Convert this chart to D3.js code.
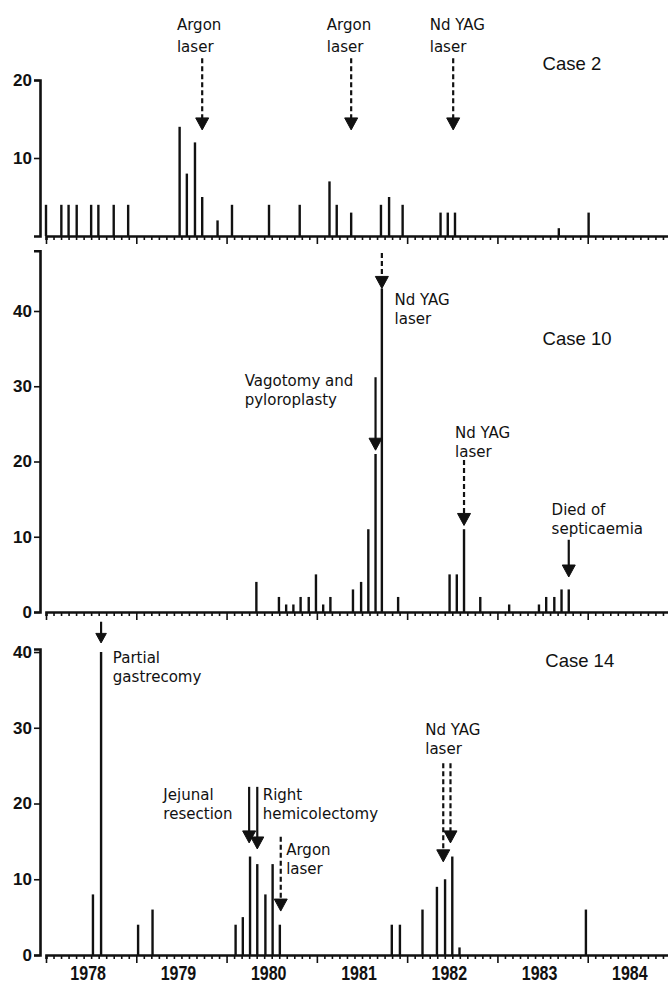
<!DOCTYPE html>
<html>
<head>
<meta charset="utf-8">
<script src="https://cdn.jsdelivr.net/npm/d3@7"></script>
<style>
  body { margin: 0; background: #fff; }
  svg { display: block; }
</style>
</head>
<body>
<div id="chart"></div>
<script>
/**
 * CONSTANTS AND GLOBALS
 * */
const width = 668,
  height = 983;

// x axis: one tick a month, long tick at each new year
const yearTicks = [1978, 1979, 1980, 1981, 1982, 1983, 1984, 1985];
const yearLabels = ["1978", "1979", "1980", "1981", "1982", "1983", "1984"];

/**
 * DATA (dates as decimal years)
 * */
const case2Dates = [1978.00, 1978.17, 1978.25, 1978.34, 1978.50, 1978.58, 1978.75, 1978.91,
  1979.48, 1979.56, 1979.65, 1979.73, 1979.90, 1980.06, 1980.47, 1980.81,
  1981.14, 1981.22, 1981.38, 1981.71, 1981.80, 1981.95, 1982.37, 1982.45, 1982.53,
  1983.68, 1984.01];
const case2Units = [4, 4, 4, 4, 4, 4, 4, 4,
  14, 8, 12, 5, 2, 4, 4, 4,
  7, 4, 3, 4, 5, 4, 3, 3, 3,
  1, 3];

const case10Dates = [1980.33, 1980.58, 1980.66, 1980.74, 1980.82, 1980.91, 1980.99, 1981.07,
  1981.15, 1981.40, 1981.49, 1981.57, 1981.65, 1981.72, 1981.90,
  1982.47, 1982.55, 1982.63, 1982.81, 1983.13, 1983.46, 1983.54, 1983.63, 1983.71, 1983.79];
const case10Units = [4, 2, 1, 1, 2, 2, 5, 1,
  2, 3, 4, 11, 21, 43, 2,
  5, 5, 11, 2, 1, 1, 2, 2, 3, 3];

const case14Dates = [1978.52, 1978.61, 1979.02, 1979.18,
  1980.10, 1980.18, 1980.26, 1980.34, 1980.43, 1980.51, 1980.59,
  1981.83, 1981.92, 1982.17, 1982.33, 1982.42, 1982.50, 1982.58, 1983.98];
const case14Units = [8, 40, 4, 6,
  4, 5, 13, 12, 8, 12, 4,
  4, 4, 6, 9, 10, 13, 1, 6];

// treatment arrows: date, value where the shaft starts, value at the tip
const case2Arrows = [
  { date: 1979.73, from: 22.8, to: 13.6, dashed: true },
  { date: 1981.38, from: 22.8, to: 13.6, dashed: true },
  { date: 1982.51, from: 22.8, to: 13.6, dashed: true },
];
const case2Notes = [
  { date: 1979.45, value: 26.4, lines: ["Argon", "laser"] },
  { date: 1981.11, value: 26.4, lines: ["Argon", "laser"] },
  { date: 1982.25, value: 26.4, lines: ["Nd YAG", "laser"] },
];

const case10Arrows = [
  { date: 1981.72, from: 47.7, to: 43, dashed: true },
  { date: 1981.65, from: 31.2, to: 21.5, dashed: false },
  { date: 1982.63, from: 20.2, to: 11.5, dashed: true },
  { date: 1983.79, from: 9.6, to: 4.65, dashed: false },
];
const case10Notes = [
  { date: 1981.86, value: 40.8, lines: ["Nd YAG", "laser"] },
  { date: 1980.20, value: 30.0, lines: ["Vagotomy and", "pyloroplasty"] },
  { date: 1982.53, value: 23.1, lines: ["Nd YAG", "laser"] },
  { date: 1983.60, value: 12.9, lines: ["Died of", "septicaemia"] },
];

const case14Arrows = [
  { date: 1978.61, from: 44.0, to: 41.2, dashed: false },
  { date: 1980.25, from: 22.2, to: 14.8, dashed: false },
  { date: 1980.34, from: 22.2, to: 14.0, dashed: false },
  { date: 1980.60, from: 15.6, to: 5.8, dashed: true },
  { date: 1982.40, from: 25.3, to: 12.3, dashed: true },
  { date: 1982.48, from: 25.3, to: 14.8, dashed: true },
];
const case14Notes = [
  { date: 1978.74, value: 38.6, lines: ["Partial", "gastrecomy"] },
  { date: 1979.30, value: 20.5, lines: ["Jejunal", "resection"] },
  { date: 1980.40, value: 20.5, lines: ["Right", "hemicolectomy"] },
  { date: 1980.66, value: 13.2, lines: ["Argon", "laser"] },
  { date: 1982.20, value: 29.0, lines: ["Nd YAG", "laser"] },
];

const caseNames = ["Case 2", "Case 10", "Case 14"];
const caseNameDates = [1983.50, 1983.50, 1983.53];
const caseNameValues = [21.3, 35.5, 38.0];

/**
 * LAYOUT
 * */
const panels = [
  { base: 236, top: 80, yMax: 20, ticks: [10, 20], dates: case2Dates, units: case2Units,
    arrows: case2Arrows, notes: case2Notes, labels: false, gap: 22 },
  { base: 612, top: 250.8, yMax: 48, ticks: [0, 10, 20, 30, 40], dates: case10Dates, units: case10Units,
    arrows: case10Arrows, notes: case10Notes, labels: false, gap: 19 },
  { base: 955, top: 649, yMax: 40.4, ticks: [0, 10, 20, 30, 40], dates: case14Dates, units: case14Units,
    arrows: case14Arrows, notes: case14Notes, labels: true, gap: 19 },
];

const annFont = "'DejaVu Sans', sans-serif",
  annSize = 16,
  annSquash = 0.94;

const svg = d3.select("#chart")
  .append("svg")
  .attr("width", width)
  .attr("height", height)
  .style("background", "#fff");

const x = d3.scaleLinear()
  .domain([1978, 1985])
  .range([46, 678]);

const months = d3.range(0, 7 * 12 + 1).map(i => 1978 + i / 12);

panels.forEach((p, pi) => {
  const y = d3.scaleLinear()
    .domain([0, p.yMax])
    .range([p.base, p.top]);

  const g = svg.append("g");

  /* X AXIS */
  const xAxis = g.append("g")
    .attr("transform", `translate(0,${p.base})`)
    .call(d3.axisBottom(x)
      .tickValues(months)
      .tickSizeOuter(0)
      .tickSize(4)
      .tickFormat(""));
  xAxis.select(".domain").attr("stroke", "#111").attr("stroke-width", 2.6);
  xAxis.selectAll(".tick line")
    .attr("stroke", "#111")
    .attr("stroke-width", 1.6)
    .attr("y2", (d, i) => i % 12 === 0 ? 8 : 4);

  if (p.labels) {
    g.selectAll("text.year")
      .data(yearLabels)
      .join("text")
      .attr("class", "year")
      .attr("transform", (d, i) => `translate(${x(yearTicks[i] + 0.5) - 3},${p.base + 25}) scale(0.8,1)`)
      .attr("text-anchor", "middle")
      .attr("font-family", "'Liberation Sans', Arial, sans-serif")
      .attr("font-weight", "bold")
      .attr("font-size", 20)
      .attr("fill", "#111")
      .text(d => d);
  }

  /* Y AXIS */
  const yAxis = g.append("g")
    .attr("transform", "translate(40,0)")
    .call(d3.axisLeft(y)
      .tickValues(p.ticks)
      .tickSizeOuter(0)
      .tickSize(6)
      .tickPadding(2));
  yAxis.select(".domain").attr("stroke", "#111").attr("stroke-width", 2.6);
  yAxis.selectAll(".tick line").attr("stroke", "#111").attr("stroke-width", 1.6);
  yAxis.selectAll(".tick text")
    .attr("font-family", "'Liberation Sans', Arial, sans-serif")
    .attr("font-weight", "bold")
    .attr("font-size", 17)
    .attr("fill", "#111");

  /* BARS */
  g.selectAll("line.bar")
    .data(p.dates.map((d, i) => ({ date: d, v: p.units[i] })))
    .join("line")
    .attr("class", "bar")
    .attr("x1", d => x(d.date))
    .attr("x2", d => x(d.date))
    .attr("y1", y(0))
    .attr("y2", d => y(d.v))
    .attr("stroke", "#111")
    .attr("stroke-width", 2.4);

  /* ARROWS */
  p.arrows.forEach(a => {
    const ax = x(a.date),
      y0 = y(a.from),
      tip = y(a.to),
      head = Math.min(12, (tip - y0) * 0.45),
      half = head * 0.5;
    g.append("line")
      .attr("x1", ax).attr("x2", ax)
      .attr("y1", y0).attr("y2", tip - head + 1)
      .attr("stroke", "#111")
      .attr("stroke-width", 2.2)
      .attr("stroke-dasharray", a.dashed ? "5,3" : null);
    g.append("path")
      .attr("d", `M${ax - half - 0.5},${tip - head} L${ax + half + 0.5},${tip - head} L${ax},${tip} Z`)
      .attr("fill", "#111")
      .attr("stroke", "#111")
      .attr("stroke-width", 1)
      .attr("stroke-linejoin", "round");
  });

  /* NOTES */
  p.notes.forEach(n => {
    n.lines.forEach((line, li) => {
      g.append("text")
        .attr("transform", `translate(${x(n.date)},${y(n.value) + li * p.gap}) scale(${annSquash},1)`)
        .attr("font-family", annFont)
        .attr("font-size", annSize)
        .attr("fill", "#111")
        .text(line);
    });
  });

  /* CASE NAME */
  g.append("text")
    .attr("x", x(caseNameDates[pi]))
    .attr("y", y(caseNameValues[pi]))
    .attr("font-family", "'Liberation Sans', Arial, sans-serif")
    .attr("font-size", 18.5)
    .attr("fill", "#111")
    .text(caseNames[pi]);
});
</script>
</body>
</html>
